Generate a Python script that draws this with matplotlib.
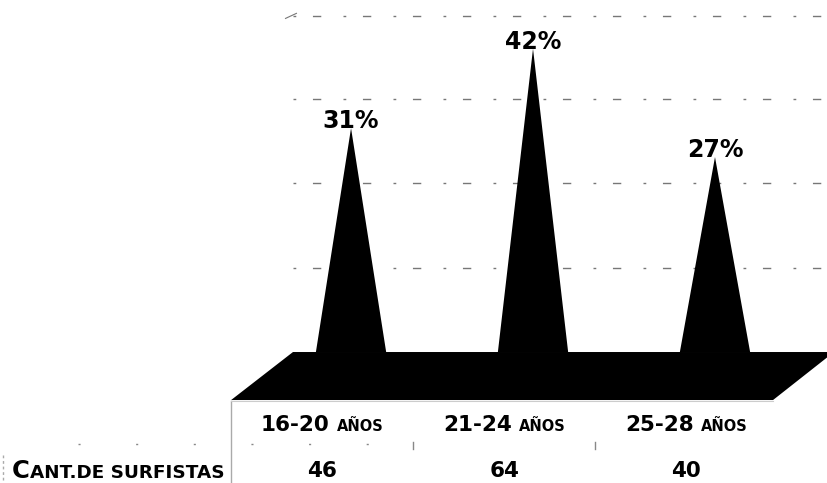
import matplotlib
matplotlib.use("Agg")
import matplotlib.pyplot as plt
from matplotlib.transforms import ScaledTranslation

# data
age_groups = ["16-20", "21-24", "25-28"]
age_unit = "AÑOS"
percentages = [31, 42, 27]
surfers = [46, 64, 40]
row_header = ("C", "ANT.DE SURFISTAS")
grid_levels = [11.7, 23.4, 35.0, 46.6]

FONT = "DejaVu Sans"

fig = plt.figure(figsize=(8.28, 4.83), dpi=100)
ax = fig.add_axes([0, 0, 1, 1])
ax.axis("off")
# x: one unit per category, y: percent (floor back edge = 0)
ax.set_xlim(-1.929, 2.621)
ax.set_ylim(-18.14, 48.75)

renderer = fig.canvas.get_renderer()


def mixed_text(x, y, parts, ha="center", gap=0.0, **kw):
    """Draw small-caps style text made of (string, size) parts on one baseline."""
    texts = [ax.text(x, y, s, fontsize=fs, ha="left", va="baseline",
                     family=FONT, **kw) for s, fs in parts]
    widths = [t.get_window_extent(renderer).width for t in texts]
    total = sum(widths) + gap * (len(parts) - 1)
    off = -total / 2 if ha == "center" else 0.0
    for t, w in zip(texts, widths):
        t.set_transform(ax.transData + ScaledTranslation(off / fig.dpi, 0, fig.dpi_scale_trans))
        off += w + gap
    return texts


# back-wall grid lines (faded, broken)
for g in grid_levels:
    ax.plot([-0.32, 2.65], [g, g], color="#777777", lw=1.0,
            dashes=(2, 12, 6, 16), zorder=0)
ax.plot([-0.36, -0.30], [46.2, 46.9], color="#777777", lw=0.8, zorder=0)

# floor slab
n = len(percentages)
depth = -6.65
ax.fill([-0.659, n - 1 + 0.319, n - 1 + 0.654, -0.319],
        [depth, depth, 0, 0], color="black", lw=0, zorder=1)

# cones
hw = 0.193
for i, p in enumerate(percentages):
    ax.fill([i - hw, i, i + hw], [0, p, 0], color="black", lw=0, zorder=2)
    ax.text(i, p, f"{p}%", ha="center", va="baseline", fontsize=17,
            family=FONT, weight="bold", zorder=3)

# table below the floor
col_off = -0.159
for i, (a, c) in enumerate(zip(age_groups, surfers)):
    mixed_text(i + col_off, -10.94, [(a, 15.5), (age_unit, 10.5)], gap=7,
               weight="bold")
    ax.text(i + col_off, -17.3, str(c), ha="center", va="baseline",
            fontsize=15.5, family=FONT, weight="bold")

mixed_text(-1.863, -17.45, [(row_header[0], 17.5), (row_header[1], 13.2)],
           ha="left", weight="bold")

# faded table rules
ax.plot([-0.659, -0.659], [-6.8, -18.14], color="#aaaaaa", lw=1, zorder=0)
ax.plot([-1.912, -1.912], [-14.2, -18.14], color="#aaaaaa", lw=1,
        dashes=(2, 2), zorder=0)
ax.plot([-0.659, 2.319], [-6.75, -6.75], color="#cccccc", lw=0.8, zorder=0)
ax.plot([-1.5, 0.2], [-12.7, -12.7], color="#888888", lw=1,
        dashes=(1.5, 40), zorder=0)
for xs in [0.341, 1.341]:
    ax.plot([xs, xs], [-12.4, -13.4], color="#888888", lw=1, zorder=0)

fig.savefig("out.png", dpi=100)
